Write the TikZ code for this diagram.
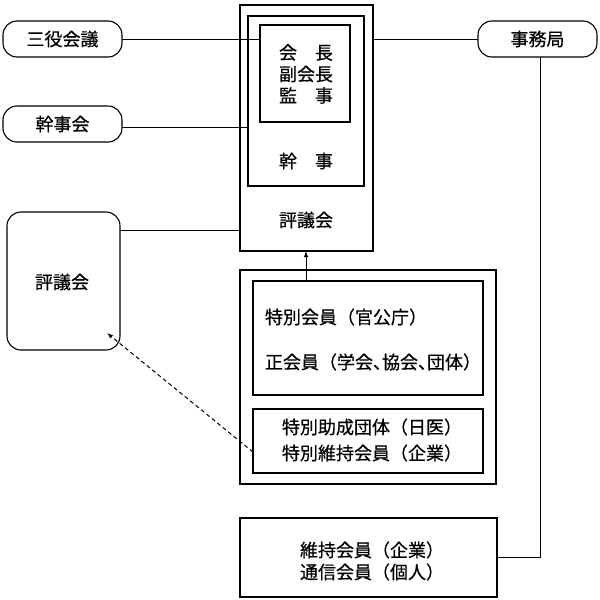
\documentclass[tikz,border=0pt]{standalone}
\usepackage{fontspec}
\setmainfont{Noto Sans CJK JP}[FakeBold=0.5]
\usetikzlibrary{arrows.meta}
\begin{document}
\begin{tikzpicture}[x=1pt,y=-1pt,
  every node/.style={inner sep=0pt, outer sep=0pt, font=\fontsize{18}{22}\selectfont},
  box/.style={draw, line width=1.1pt},
  rbox/.style={draw, line width=1.1pt, rounded corners=14pt},
  txt/.style={align=center},
  conn/.style={line width=1pt},
  arr/.style={line width=1pt, -{Latex[length=6pt,width=4.5pt]}}
]
\useasboundingbox (0,0) rectangle (600,600);
\fill[white] (0,0) rectangle (600,600);

% central council column
\node[box, minimum width=133pt, minimum height=246pt] (outer) at (306.5,128) {};
\node[box, minimum width=116pt, minimum height=170pt] (middle) at (306,101) {};
\node[box, minimum width=90pt, minimum height=97pt] (inner) at (305,73.5) {};
\node[txt, font=\fontsize{18}{21.5}\selectfont] (officers) at (306,74) {会　長\\副会長\\監　事};
\node (kanji) at (306,161) {幹　事};
\node (hyogi) at (306,220) {評議会};

% side rounded boxes
\node[rbox, minimum width=119pt, minimum height=36pt] (sanyaku) at (62.5,39) {三役会議};
\node[rbox, minimum width=119pt, minimum height=36pt] (kanjikai) at (62.5,124) {幹事会};
\node[rbox, minimum width=119pt, minimum height=36pt] (jimu) at (537.5,39) {事務局};
\node[rbox, minimum width=113pt, minimum height=138pt] (hyogi2) at (63.5,281) {};
\node (hyogi2t) at (62,282) {評議会};

% membership group
\node[box, minimum width=256pt, minimum height=214pt] (group) at (368,377) {};
\node[box, minimum width=230pt, minimum height=114pt] (mem1) at (368,338) {};
\node[anchor=west] (tokubetsu) at (265,317) {特別会員（官公庁）};
\node[anchor=west] (seikai) at (265,362) {正会員（学会、\kern-0.5em 協会、\kern-0.5em 団体）};
\node[box, minimum width=230pt, minimum height=64pt] (mem2) at (368,441) {};
\node[txt, font=\fontsize{18}{26}\selectfont] (mem2t) at (372,440) {特別助成団体（日医）\\特別維持会員（企業）};

% bottom box
\node[box, minimum width=257pt, minimum height=79pt] (bottom) at (368.5,557.5) {};
\node[txt] (bottomt) at (372,561) {維持会員（企業）\\通信会員（個人）};

% connectors
\draw[conn] (sanyaku.east) -- (sanyaku.east -| inner.west);
\draw[conn] ([yshift=-3pt]kanjikai.east) -- ([yshift=-3pt]kanjikai.east -| middle.west);
\draw[conn] (jimu.west) -- (jimu.west -| outer.east);
\draw[conn] ([xshift=2.5pt]jimu.south) |- (bottom.east);
\draw[conn] ([yshift=51pt]hyogi2.east) -- ([yshift=51pt]hyogi2.east -| outer.west);
\draw[arr] ([xshift=-62pt]mem1.north) -- ([xshift=-62pt]mem1.north |- outer.south);
\coordinate (dashend) at (107,333);
\draw[arr, dashed, dash pattern=on 4pt off 3pt] ([yshift=-11pt]mem2.west) -- (dashend);
\end{tikzpicture}
\end{document}
